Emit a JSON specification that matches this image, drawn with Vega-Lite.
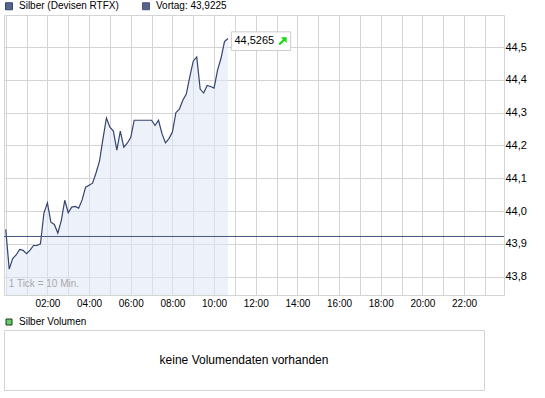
{
  "$schema": "https://vega.github.io/schema/vega-lite/v6.json",
  "padding": {"left": 3, "top": 0, "right": 0, "bottom": 0},
  "config": {
    "locale": {"number": {"decimal": ",", "thousands": ".", "grouping": [3], "currency": ["", " €"]}},
    "font": "Liberation Sans",
    "view": {"stroke": "#d4d4d4", "strokeWidth": 1},
    "axis": {"grid": true, "gridColor": "#d4d4d4", "gridOpacity": 1, "gridWidth": 1},
    "concat": {"spacing": 7}
  },
  "resolve": {"scale": {"color": "independent"}, "legend": {"color": "independent"}},
  "datasets": {
    "price": [
      {"min": 0, "value": 43.944}, {"min": 10, "value": 43.823}, {"min": 20, "value": 43.855},
      {"min": 30, "value": 43.866}, {"min": 40, "value": 43.883}, {"min": 50, "value": 43.880},
      {"min": 60, "value": 43.870}, {"min": 70, "value": 43.881}, {"min": 80, "value": 43.895},
      {"min": 90, "value": 43.895}, {"min": 100, "value": 43.900}, {"min": 110, "value": 43.994},
      {"min": 120, "value": 44.025}, {"min": 130, "value": 43.966}, {"min": 140, "value": 43.959},
      {"min": 150, "value": 43.933}, {"min": 160, "value": 43.971}, {"min": 170, "value": 44.033},
      {"min": 180, "value": 43.995}, {"min": 190, "value": 44.012}, {"min": 200, "value": 44.014},
      {"min": 210, "value": 44.009}, {"min": 220, "value": 44.034}, {"min": 230, "value": 44.073},
      {"min": 240, "value": 44.079}, {"min": 250, "value": 44.085}, {"min": 260, "value": 44.116},
      {"min": 270, "value": 44.152}, {"min": 280, "value": 44.220}, {"min": 290, "value": 44.284},
      {"min": 300, "value": 44.256}, {"min": 310, "value": 44.244}, {"min": 320, "value": 44.186},
      {"min": 330, "value": 44.244}, {"min": 340, "value": 44.195}, {"min": 350, "value": 44.207},
      {"min": 360, "value": 44.224}, {"min": 370, "value": 44.277}, {"min": 380, "value": 44.277},
      {"min": 390, "value": 44.277}, {"min": 400, "value": 44.277}, {"min": 410, "value": 44.277},
      {"min": 420, "value": 44.277}, {"min": 430, "value": 44.261}, {"min": 440, "value": 44.277},
      {"min": 450, "value": 44.236}, {"min": 460, "value": 44.208}, {"min": 470, "value": 44.221},
      {"min": 480, "value": 44.241}, {"min": 490, "value": 44.300}, {"min": 500, "value": 44.311},
      {"min": 510, "value": 44.338}, {"min": 520, "value": 44.357}, {"min": 530, "value": 44.409},
      {"min": 540, "value": 44.457}, {"min": 550, "value": 44.470}, {"min": 560, "value": 44.372},
      {"min": 570, "value": 44.360}, {"min": 580, "value": 44.383}, {"min": 590, "value": 44.380},
      {"min": 600, "value": 44.375}, {"min": 610, "value": 44.430}, {"min": 620, "value": 44.466},
      {"min": 630, "value": 44.517}, {"min": 640, "value": 44.5265}
    ],
    "last": [{"min": 640, "value": 44.5265}],
    "prev": [{"value": 43.9225, "label": "Vortag: 43,9225"}],
    "note": [{"min": 0, "value": 43.744, "text": "1 Tick = 10 Min."}],
    "vol": [{"msg": "keine Volumendaten vorhanden", "series": "Silber Volumen"}]
  },
  "vconcat": [
    {
      "width": 500,
      "height": 280,
      "encoding": {
        "x": {
          "field": "min", "type": "quantitative",
          "scale": {"domain": [-5, 1435], "nice": false, "zero": false},
          "axis": {
            "title": null,
            "values": [0, 60, 120, 180, 240, 300, 360, 420, 480, 540, 600, 660, 720, 780, 840, 900, 960, 1020, 1080, 1140, 1200, 1260, 1320, 1380],
            "labelExpr": "datum.value % 120 == 0 && datum.value > 0 ? (datum.value < 600 ? '0' : '') + (datum.value / 60) + ':00' : ''",
            "grid": true, "ticks": false, "domain": false,
            "labelPadding": 3, "labelFontSize": 10, "labelColor": "#000000", "labelFlush": false
          }
        },
        "y": {
          "field": "value", "type": "quantitative",
          "scale": {"domain": [43.744, 44.598], "nice": false, "zero": false},
          "axis": {
            "title": null, "orient": "right",
            "values": [43.8, 43.9, 44.0, 44.1, 44.2, 44.3, 44.4, 44.5],
            "format": ".1f",
            "grid": true, "ticks": false, "domain": false,
            "labelPadding": 1, "labelFontSize": 11, "labelColor": "#000000"
          }
        }
      },
      "layer": [
        {
          "data": {"name": "price"},
          "mark": {"type": "area", "fill": "#dfe5f5", "opacity": 0.55, "clip": true}
        },
        {
          "data": {"name": "price"},
          "mark": {"type": "line", "strokeWidth": 1.2, "clip": true},
          "encoding": {
            "color": {
              "datum": "Silber (Devisen RTFX)",
              "title": null,
              "scale": {"domain": ["Silber (Devisen RTFX)", "Vortag: 43,9225"], "range": ["#34446f", "#4a5680"]},
              "legend": {
                "title": null, "orient": "top", "offset": 3, "padding": 0,
                "symbolType": "square", "symbolSize": 49, "symbolStrokeWidth": 1,
                "symbolFillColor": "#56658a", "symbolStrokeColor": "#1a1a2a",
                "labelFontSize": 10, "labelOffset": 5, "columnPadding": 21, "labelColor": "#000000",
                "encode": {"symbols": {"update": {"fill": {"value": "#56658a"}, "stroke": {"value": "#1a1a2a"}, "strokeWidth": {"value": 1}}}}
              }
            }
          }
        },
        {
          "data": {"name": "prev"},
          "mark": {"type": "rule", "strokeWidth": 1},
          "encoding": {
            "x": null,
            "color": {"field": "label", "type": "nominal", "title": null, "legend": {"title": null}}
          }
        },
        {
          "data": {"name": "last"},
          "mark": {"type": "point", "shape": "M3.4,-6.6H62.7V12H3.4Z", "size": 4, "filled": true, "fill": "#ffffff", "stroke": "#cccccc", "strokeWidth": 1, "opacity": 1}
        },
        {
          "data": {"name": "last"},
          "mark": {"type": "text", "align": "left", "baseline": "middle", "dx": 6.5, "dy": 3, "fontSize": 11, "color": "#000000"},
          "encoding": {"text": {"field": "value", "type": "quantitative", "format": ".4f"}}
        },
        {
          "data": {"name": "last"},
          "mark": {"type": "point", "shape": "M58.7,-1.3V4.5L56.6,2.4L52.1,6.9L50.5,5.3L55,0.8L52.9,-1.3Z", "size": 4, "filled": true, "fill": "#11dd11", "strokeWidth": 0, "opacity": 1}
        },
        {
          "data": {"name": "note"},
          "mark": {"type": "text", "align": "left", "baseline": "alphabetic", "dx": 3, "dy": -8, "fontSize": 10, "color": "#aaaaaa"},
          "encoding": {"text": {"field": "text"}}
        }
      ]
    },
    {
      "width": 480,
      "height": 60,
      "data": {"name": "vol"},
      "encoding": {
        "x": {"datum": 0.5, "type": "quantitative", "scale": {"domain": [0, 1], "nice": false}, "axis": null},
        "y": {"datum": 0.5, "type": "quantitative", "scale": {"domain": [0, 1], "nice": false}, "axis": null}
      },
      "layer": [
        {
          "mark": {"type": "square", "filled": true, "opacity": 0, "size": 36},
          "encoding": {
            "color": {
              "field": "series", "type": "nominal", "title": null,
              "scale": {"range": ["#66cc66"]},
              "legend": {
                "title": null, "orient": "top", "offset": 3, "padding": 0,
                "symbolType": "square", "symbolSize": 36, "labelFontSize": 10, "labelOffset": 5, "labelColor": "#000000",
                "symbolStrokeColor": "#1a3a1a", "symbolStrokeWidth": 1,
                "encode": {"symbols": {"update": {"stroke": {"value": "#1a3a1a"}, "strokeWidth": {"value": 1}}}}
              }
            }
          }
        },
        {
          "mark": {"type": "text", "fontSize": 12, "baseline": "middle", "align": "center", "color": "#000000"},
          "encoding": {"text": {"field": "msg"}}
        }
      ]
    }
  ]
}
